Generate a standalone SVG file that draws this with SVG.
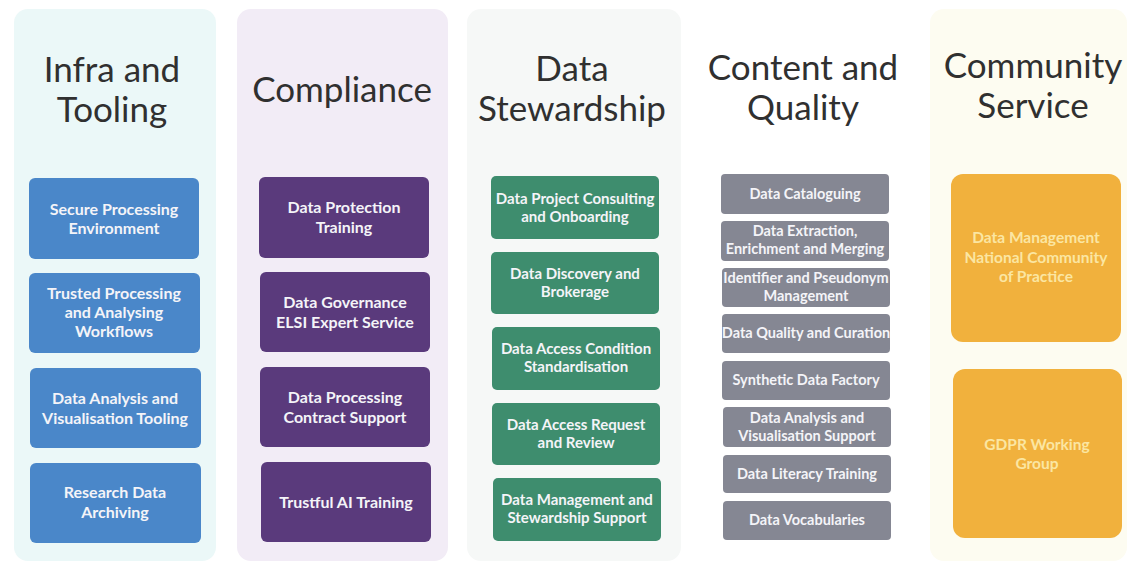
<svg xmlns="http://www.w3.org/2000/svg" width="1133" height="566" viewBox="0 0 1133 566">
<style>
.title{font-family:Lato,"Open Sans",sans-serif;font-size:35px;fill:#303030;text-anchor:middle}
.bt{font-family:Lato,"Open Sans",sans-serif;font-weight:bold;text-anchor:middle;fill:#f4f4f8}
.c1 rect{fill:#4a87c9}
.c2 rect{fill:#5a3a7c}
.c3 rect{fill:#3e8d6e}
.c4 rect{fill:#858793}
.c5 rect{fill:#f1b13d}
.c1 text,.c2 text{font-size:16px}
.c3 text{font-size:15px}
.c4 text{font-size:14.5px}
.c5 text{font-size:15.5px;fill:#fbe6a2}
</style>
<rect width="1133" height="566" fill="#ffffff"/>
<g id="backgrounds">
<rect x="14" y="9" width="202" height="552" rx="14" fill="#ebf8f8"/>
<rect x="237" y="9" width="211" height="552" rx="14" fill="#f2ecf6"/>
<rect x="467" y="9" width="214" height="552" rx="14" fill="#f6f8f7"/>
<rect x="930" y="9" width="197" height="552" rx="14" fill="#fdfcf1"/>
</g>
<g id="titles">
<text class="title" x="112" y="82">Infra and</text>
<text class="title" x="112" y="122">Tooling</text>
<text class="title" x="342" y="102">Compliance</text>
<text class="title" x="572" y="81">Data</text>
<text class="title" x="572" y="121">Stewardship</text>
<text class="title" x="803" y="80">Content and</text>
<text class="title" x="803" y="120">Quality</text>
<text class="title" x="1033" y="78">Community</text>
<text class="title" x="1033" y="118">Service</text>
</g>
<g id="infra" class="c1 bt">
<g id="n-secure"><rect x="29" y="178" width="170" height="81" rx="6"/><text x="114" y="215">Secure Processing</text><text x="114" y="234">Environment</text></g>
<g id="n-trusted"><rect x="29" y="273" width="171" height="80" rx="6"/><text x="114" y="299">Trusted Processing</text><text x="114" y="318">and Analysing</text><text x="114" y="337">Workflows</text></g>
<g id="n-analysis"><rect x="30" y="368" width="171" height="80" rx="6"/><text x="115" y="404">Data Analysis and</text><text x="115" y="424">Visualisation Tooling</text></g>
<g id="n-archiving"><rect x="30" y="463" width="171" height="80" rx="6"/><text x="115" y="498">Research Data</text><text x="115" y="518">Archiving</text></g>
</g>
<g id="compliance" class="c2 bt">
<g id="n-dpt"><rect x="259" y="177" width="170" height="81" rx="6"/><text x="344" y="213">Data Protection</text><text x="344" y="233">Training</text></g>
<g id="n-dgov"><rect x="260" y="272" width="170" height="80" rx="6"/><text x="345" y="308">Data Governance</text><text x="345" y="328">ELSI Expert Service</text></g>
<g id="n-dpc"><rect x="260" y="367" width="170" height="80" rx="6"/><text x="345" y="403">Data Processing</text><text x="345" y="423">Contract Support</text></g>
<g id="n-ai"><rect x="261" y="462" width="170" height="80" rx="6"/><text x="346" y="508">Trustful AI Training</text></g>
</g>
<g id="stewardship" class="c3 bt">
<g id="n-consult"><rect x="491" y="176" width="168" height="63" rx="5"/><text x="575" y="204">Data Project Consulting</text><text x="575" y="222">and Onboarding</text></g>
<g id="n-discovery"><rect x="491" y="252" width="168" height="62" rx="5"/><text x="575" y="279">Data Discovery and</text><text x="575" y="297">Brokerage</text></g>
<g id="n-condition"><rect x="492" y="327" width="168" height="63" rx="5"/><text x="576" y="354">Data Access Condition</text><text x="576" y="372">Standardisation</text></g>
<g id="n-request"><rect x="492" y="403" width="168" height="62" rx="5"/><text x="576" y="430">Data Access Request</text><text x="576" y="448">and Review</text></g>
<g id="n-dmss"><rect x="493" y="478" width="168" height="63" rx="5"/><text x="577" y="505">Data Management and</text><text x="577" y="523">Stewardship Support</text></g>
</g>
<g id="content" class="c4 bt">
<g id="n-catalog"><rect x="721" y="174" width="168" height="40" rx="4"/><text x="805" y="199">Data Cataloguing</text></g>
<g id="n-extract"><rect x="721" y="221" width="168" height="40" rx="4"/><text x="805" y="236">Data Extraction,</text><text x="805" y="254">Enrichment and Merging</text></g>
<g id="n-ident"><rect x="722" y="268" width="168" height="39" rx="4"/><text x="806" y="283">Identifier and Pseudonym</text><text x="806" y="301">Management</text></g>
<g id="n-quality"><rect x="722" y="314" width="168" height="39" rx="4"/><text x="806" y="338">Data Quality and Curation</text></g>
<g id="n-synth"><rect x="722" y="361" width="168" height="39" rx="4"/><text x="806" y="385">Synthetic Data Factory</text></g>
<g id="n-dav"><rect x="723" y="407" width="168" height="40" rx="4"/><text x="807" y="423">Data Analysis and</text><text x="807" y="441">Visualisation Support</text></g>
<g id="n-literacy"><rect x="723" y="455" width="168" height="38" rx="4"/><text x="807" y="479">Data Literacy Training</text></g>
<g id="n-vocab"><rect x="723" y="501" width="168" height="39" rx="4"/><text x="807" y="525">Data Vocabularies</text></g>
</g>
<g id="community" class="c5 bt">
<g id="n-dmncp"><rect x="951" y="174" width="170" height="168" rx="12"/><text x="1036" y="243">Data Management</text><text x="1036" y="263">National Community</text><text x="1036" y="282">of Practice</text></g>
<g id="n-gdpr"><rect x="953" y="369" width="169" height="169" rx="12"/><text x="1037" y="450">GDPR Working</text><text x="1037" y="469">Group</text></g>
</g>
<g id="connectors"/>
</svg>
